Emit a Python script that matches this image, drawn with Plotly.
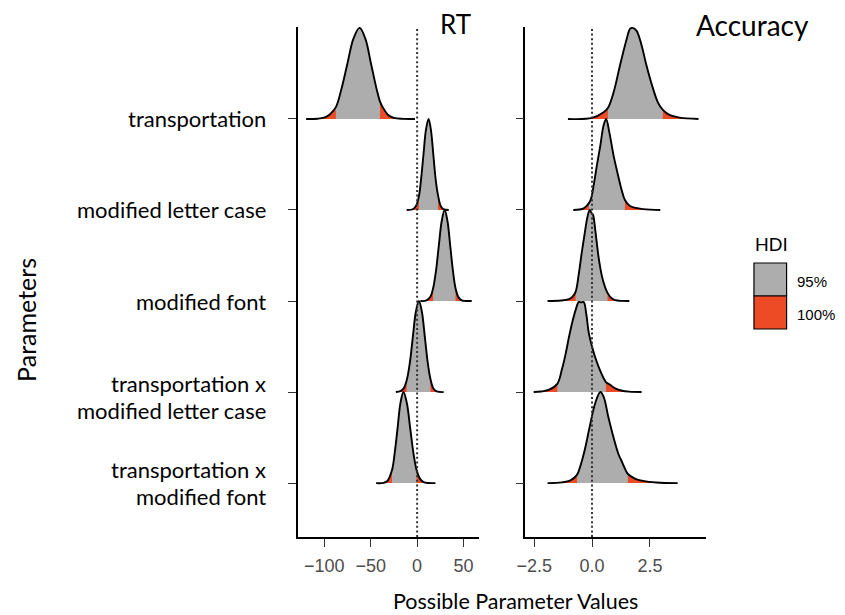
import plotly.graph_objects as go

W, H = 845, 615
OFF_X, OFF_Y = 12, 8   # offset of the plot div inside the html page
FW, FH = W - OFF_X, H - OFF_Y

# ---------------- data ----------------
categories = ["transportation", "modified letter case", "modified font",
              "transportation x<br>modified letter case", "transportation x<br>modified font"]
cat_pos = [5, 4, 3, 2, 1]

# RT posterior densities (x values, relative height) and 95% HDI bounds
rt_transport_x = [-119.4, -107, -100, -94, -87.4, -81.5, -75, -68.5, -61.9, -55.7, -49.6, -43.5, -39.9, -37.3, -31.2, -25, -15, -2.3]
rt_transport_h = [0, 0.003, 0.015, 0.05, 0.13, 0.325, 0.607, 0.882, 1.0, 0.882, 0.607, 0.325, 0.19, 0.135, 0.044, 0.011, 0.001, 0]
rt_transport_hdi = [-87.4, -39.9]

rt_case_x = [-11.2, -4, -1, 1.9, 4.1, 6.8, 9.5, 12.3, 14.8, 17.5, 20.0, 22.5, 25.3, 28, 34]
rt_case_h = [0, 0.011, 0.05, 0.15, 0.325, 0.607, 0.882, 1.0, 0.882, 0.6, 0.33, 0.16, 0.045, 0.01, 0]
rt_case_hdi = [1.9, 22.5]

rt_font_x = [3.5, 10, 14.4, 17.2, 20.2, 23.3, 26.5, 29.6, 32.6, 35.6, 38.6, 41.3, 44.5, 48, 52, 58.7]
rt_font_h = [0, 0.006, 0.05, 0.14, 0.325, 0.607, 0.882, 1.0, 0.882, 0.607, 0.325, 0.14, 0.04, 0.008, 0.001, 0]
rt_font_hdi = [17.2, 41.3]

rt_tcase_x = [-22.9, -18, -14.5, -11.2, -7.8, -4.6, -1.35, 1.9, 5.1, 8.3, 11.4, 14.4, 17.5, 21, 28.5]
rt_tcase_h = [0, 0.01, 0.04, 0.13, 0.325, 0.607, 0.882, 1.0, 0.882, 0.607, 0.325, 0.14, 0.04, 0.008, 0]
rt_tcase_hdi = [-11.2, 14.4]

rt_tfont_x = [-44.1, -36, -32, -27.1, -24.2, -21, -17.9, -14.7, -11.1, -7.5, -3.9, -0.5, 3.3, 7, 12, 19.7]
rt_tfont_h = [0, 0.003, 0.023, 0.14, 0.325, 0.607, 0.882, 1.0, 0.882, 0.607, 0.325, 0.14, 0.044, 0.011, 0.001, 0]
rt_tfont_hdi = [-27.1, -0.5]

# Accuracy posterior densities
acc_transport_x = [-1.04, 0.0, 0.50, 0.685, 0.93, 1.21, 1.50, 1.64, 1.75, 1.92, 2.14, 2.35, 2.64, 2.85, 3.06, 3.35, 3.78, 4.60]
acc_transport_h = [0, 0.011, 0.074, 0.12, 0.29, 0.59, 0.88, 0.99, 1.0, 0.97, 0.81, 0.59, 0.33, 0.18, 0.10, 0.044, 0.015, 0]
acc_transport_hdi = [0.685, 3.06]

acc_case_x = [-0.81, -0.36, -0.14, -0.04, 0.07, 0.21, 0.36, 0.50, 0.61, 0.75, 0.93, 1.07, 1.28, 1.42, 1.64, 2.21, 2.95]
acc_case_h = [0, 0.018, 0.073, 0.127, 0.27, 0.49, 0.71, 0.93, 1.0, 0.85, 0.60, 0.44, 0.22, 0.11, 0.044, 0.01, 0]
acc_case_hdi = [-0.14, 1.42]

acc_font_x = [-1.92, -1.35, -1.0, -0.85, -0.71, -0.57, -0.45, -0.33, -0.2, -0.1, -0.03, 0.04, 0.14, 0.29, 0.46, 0.67, 0.85, 1.0, 1.61]
acc_font_h = [0, 0.005, 0.02, 0.045, 0.10, 0.30, 0.52, 0.72, 0.92, 1.0, 0.97, 0.95, 0.78, 0.47, 0.24, 0.09, 0.03, 0.01, 0]
acc_font_hdi = [-0.71, 0.67]

acc_tcase_x = [-2.52, -2.2, -1.85, -1.5, -1.3, -1.14, -1.0, -0.85, -0.71, -0.57, -0.47, -0.36, -0.25, -0.14, 0.0, 0.14, 0.36, 0.60, 0.78, 1.0, 1.3, 1.6, 2.14]
acc_tcase_h = [0, 0.006, 0.026, 0.09, 0.25, 0.42, 0.60, 0.77, 0.90, 0.99, 0.985, 0.99, 0.86, 0.65, 0.50, 0.38, 0.23, 0.11, 0.08, 0.04, 0.015, 0.005, 0]
acc_tcase_hdi = [-1.5, 0.60]

acc_tfont_x = [-1.92, -1.3, -0.93, -0.65, -0.5, -0.3, -0.1, 0.14, 0.36, 0.5, 0.71, 0.93, 1.14, 1.28, 1.42, 1.55, 1.85, 2.2, 2.78, 3.70]
acc_tfont_h = [0, 0.008, 0.03, 0.09, 0.19, 0.38, 0.62, 0.88, 1.0, 0.95, 0.72, 0.50, 0.32, 0.24, 0.16, 0.10, 0.05, 0.025, 0.007, 0]
acc_tfont_hdi = [-0.65, 1.55]

rt_ticks = [-100, -50, 0, 50]
acc_ticks = [-2.5, 0.0, 2.5]
legend_title = "HDI"
legend_labels = ["95%", "100%"]

# ---------------- styling ----------------
GRAY = "#ADADAD"
RED = "#EC4B26"
TXT_FONT = "Lato"
TICK_FONT = "Liberation Sans"
label_shift_px = [0, 0, 0, 5, 0]   # vertical fine-tuning of the category labels
line_gap_px = 27.5                 # distance between lines of two-line labels


def px_x(p):
    return (p - OFF_X) / FW


def px_y(p):
    return 1 - (p - OFF_Y) / FH


fig = go.Figure()

rt_curves = [(rt_transport_x, rt_transport_h, rt_transport_hdi),
             (rt_case_x, rt_case_h, rt_case_hdi),
             (rt_font_x, rt_font_h, rt_font_hdi),
             (rt_tcase_x, rt_tcase_h, rt_tcase_hdi),
             (rt_tfont_x, rt_tfont_h, rt_tfont_hdi)]
acc_curves = [(acc_transport_x, acc_transport_h, acc_transport_hdi),
              (acc_case_x, acc_case_h, acc_case_hdi),
              (acc_font_x, acc_font_h, acc_font_hdi),
              (acc_tcase_x, acc_tcase_h, acc_tcase_hdi),
              (acc_tfont_x, acc_tfont_h, acc_tfont_hdi)]

NONE = "rgba(0,0,0,0)"


def add_ridge(xs, hs, hdi, base, xa, ya):
    ys = [base + h for h in hs]
    common = dict(xaxis=xa, yaxis=ya, hoverinfo="skip", showlegend=False, mode="lines")
    # full curve in red (tails)
    fig.add_trace(go.Scatter(x=[xs[0], xs[-1]], y=[base, base], line=dict(width=0, color=NONE), **common))
    fig.add_trace(go.Scatter(x=xs, y=ys, line=dict(width=0, color=NONE, shape="spline"),
                             fill="tonexty", fillcolor=RED, **common))
    # 95% HDI in gray
    idx = [i for i, v in enumerate(xs) if hdi[0] <= v <= hdi[1]]
    sx = [xs[i] for i in idx]
    sy = [ys[i] for i in idx]
    fig.add_trace(go.Scatter(x=[sx[0], sx[-1]], y=[base, base], line=dict(width=0, color=NONE), **common))
    fig.add_trace(go.Scatter(x=sx, y=sy, line=dict(width=0, color=NONE, shape="spline"),
                             fill="tonexty", fillcolor=GRAY, **common))
    # outline
    fig.add_trace(go.Scatter(x=xs, y=ys, line=dict(width=1.9, color="black", shape="spline"), **common))


for (xs, hs, hdi), b in zip(rt_curves, cat_pos):
    add_ridge(xs, hs, hdi, b, "x", "y")
for (xs, hs, hdi), b in zip(acc_curves, cat_pos):
    add_ridge(xs, hs, hdi, b, "x2", "y2")

ydom = [px_y(537), px_y(27)]
yr = [0.408, 6.01]

axis_common = dict(showgrid=False, zeroline=False, showline=True, linecolor="black", linewidth=1.5,
                   ticks="outside", ticklen=8, tickwidth=1.3, tickcolor="#333333")

fig.update_layout(
    width=FW, height=FH,
    margin=dict(l=0, r=0, t=0, b=0),
    paper_bgcolor="white", plot_bgcolor="white",
    showlegend=False,
    xaxis=dict(domain=[px_x(296), px_x(479)], range=[-128.2, 66.5], tickvals=rt_ticks, ticklabelstandoff=4,
               tickfont=dict(family=TICK_FONT, size=18, color="#4D4D4D"), anchor="y", **axis_common),
    xaxis2=dict(domain=[px_x(526), px_x(709)], range=[-2.876, 4.944], tickvals=acc_ticks, tickformat=".1f",
                ticklabelstandoff=4,
                tickfont=dict(family=TICK_FONT, size=18, color="#4D4D4D"), anchor="y2", **axis_common),
    yaxis=dict(domain=ydom, range=yr, tickvals=cat_pos, showticklabels=False, anchor="x", **axis_common),
    yaxis2=dict(domain=ydom, range=yr, tickvals=cat_pos, showticklabels=False, anchor="x2", **axis_common),
)

shapes = []
for xr in ["x", "x2"]:
    shapes.append(dict(type="line", xref=xr, yref="paper", x0=0, x1=0, y0=ydom[0], y1=ydom[1],
                       line=dict(color="#333333", width=2, dash="2px,2.6px"), layer="above"))
# legend keys
shapes.append(dict(type="rect", xref="paper", yref="paper", x0=px_x(757), x1=px_x(790), y0=px_y(296), y1=px_y(263),
                   fillcolor=GRAY, line=dict(color="black", width=1.2)))
shapes.append(dict(type="rect", xref="paper", yref="paper", x0=px_x(757), x1=px_x(790), y0=px_y(329), y1=px_y(296),
                   fillcolor=RED, line=dict(color="black", width=1.2)))

annotations = []
for lab, pos, sh in zip(categories, cat_pos, label_shift_px):
    lines = lab.split("<br>")
    n = len(lines)
    for k, ln in enumerate(lines):
        off = (k - (n - 1) / 2) * line_gap_px + (sh if n > 1 else 0)
        annotations.append(dict(text=ln, xref="paper", yref="y", x=px_x(266), y=pos, yshift=-off,
                                xanchor="right", yanchor="middle", align="right", showarrow=False,
                                font=dict(family=TXT_FONT, size=22, color="black")))
annotations += [
    dict(text="RT", xref="paper", yref="paper", x=px_x(473), y=px_y(24), xanchor="right", yanchor="middle",
         showarrow=False, font=dict(family=TXT_FONT, size=26, color="black")),
    dict(text="Accuracy", xref="paper", yref="paper", x=px_x(815), y=px_y(25), xanchor="right", yanchor="middle",
         showarrow=False, font=dict(family=TXT_FONT, size=28, color="black")),
    dict(text="Parameters", xref="paper", yref="paper", x=px_x(21), y=px_y(320), xanchor="center",
         yanchor="middle", textangle=-90, showarrow=False, font=dict(family=TXT_FONT, size=25, color="black")),
    dict(text="Possible Parameter Values", xref="paper", yref="paper", x=px_x(516), y=px_y(601),
         xanchor="center", yanchor="middle", showarrow=False, font=dict(family=TXT_FONT, size=21.5, color="black")),
    dict(text=legend_title, xref="paper", yref="paper", x=px_x(756), y=px_y(244), xanchor="left",
         yanchor="middle", showarrow=False, font=dict(family=TICK_FONT, size=19, color="black")),
    dict(text=legend_labels[0], xref="paper", yref="paper", x=px_x(798), y=px_y(281), xanchor="left",
         yanchor="middle", showarrow=False, font=dict(family=TICK_FONT, size=15, color="black")),
    dict(text=legend_labels[1], xref="paper", yref="paper", x=px_x(798), y=px_y(314), xanchor="left",
         yanchor="middle", showarrow=False, font=dict(family=TICK_FONT, size=15, color="black")),
]

fig.update_layout(shapes=shapes, annotations=annotations)
fig.write_html("out.html")
